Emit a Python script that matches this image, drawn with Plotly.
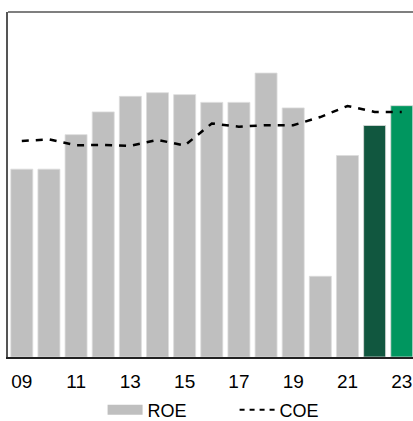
import plotly.graph_objects as go

years = list(range(2009, 2024))
roe = [10.89, 10.89, 12.89, 14.21, 15.11, 15.32, 15.21, 14.76, 14.76, 16.46, 14.44, 4.68, 11.68, 13.42, 14.57]
coe = [12.52, 12.62, 12.27, 12.30, 12.24, 12.59, 12.26, 13.54, 13.35, 13.44, 13.44, 13.91, 14.55, 14.21, 14.21]
tick_vals = [2009, 2011, 2013, 2015, 2017, 2019, 2021, 2023]
tick_text = ["09", "11", "13", "15", "17", "19", "21", "23"]

gray = "#bfbfbf"
bar_colors = [gray] * 13 + ["#11573f", "#00965f"]

fig = go.Figure()
fig.add_trace(go.Bar(
    x=years, y=roe, width=0.81,
    marker=dict(color=bar_colors, line=dict(color="#dcdcdc", width=0.8)),
    showlegend=False, hoverinfo="skip",
))
fig.add_trace(go.Scatter(
    x=years, y=coe, mode="lines",
    line=dict(color="#000000", width=2.5, dash="7px,7px"),
    showlegend=False,
))
# legend entries
fig.add_trace(go.Scatter(x=[None], y=[None], mode="lines", name="ROE",
                         line=dict(color=gray, width=10)))
fig.add_trace(go.Scatter(x=[None], y=[None], mode="lines", name="COE",
                         line=dict(color="#000000", width=2, dash="5px,5px")))

x0 = 2009 - 0.5085
fig.update_layout(
    width=413, height=421,
    margin=dict(l=8, r=0, t=12, b=62),
    paper_bgcolor="white", plot_bgcolor="white",
    font=dict(family="Liberation Sans, Arial, sans-serif", color="#000000"),
    showlegend=True,
    legend=dict(orientation="h", xref="container", yref="container",
                x=0.568, xanchor="center", y=0.026, yanchor="middle",
                font=dict(size=18), entrywidth=82, itemwidth=35, traceorder="normal"),
    xaxis=dict(range=[x0, x0 + 405 / 27.14], tickvals=tick_vals, ticktext=tick_text,
               showgrid=False, zeroline=False, showline=True, linecolor="#222222", linewidth=1.5,
               ticks="", tickfont=dict(size=19), ticklabelstandoff=6),
    yaxis=dict(range=[0, 20], showgrid=False, zeroline=False, showticklabels=False,
               showline=True, linecolor="#555555", linewidth=1.5, ticks=""),
    shapes=[dict(type="line", xref="paper", yref="paper", x0=0, x1=1, y0=1, y1=1,
                 line=dict(color="#555555", width=1.5))],
)

fig.write_html("out.html", config={"displayModeBar": False},
               post_script="document.body.style.margin='0px';document.body.style.overflow='hidden';")
